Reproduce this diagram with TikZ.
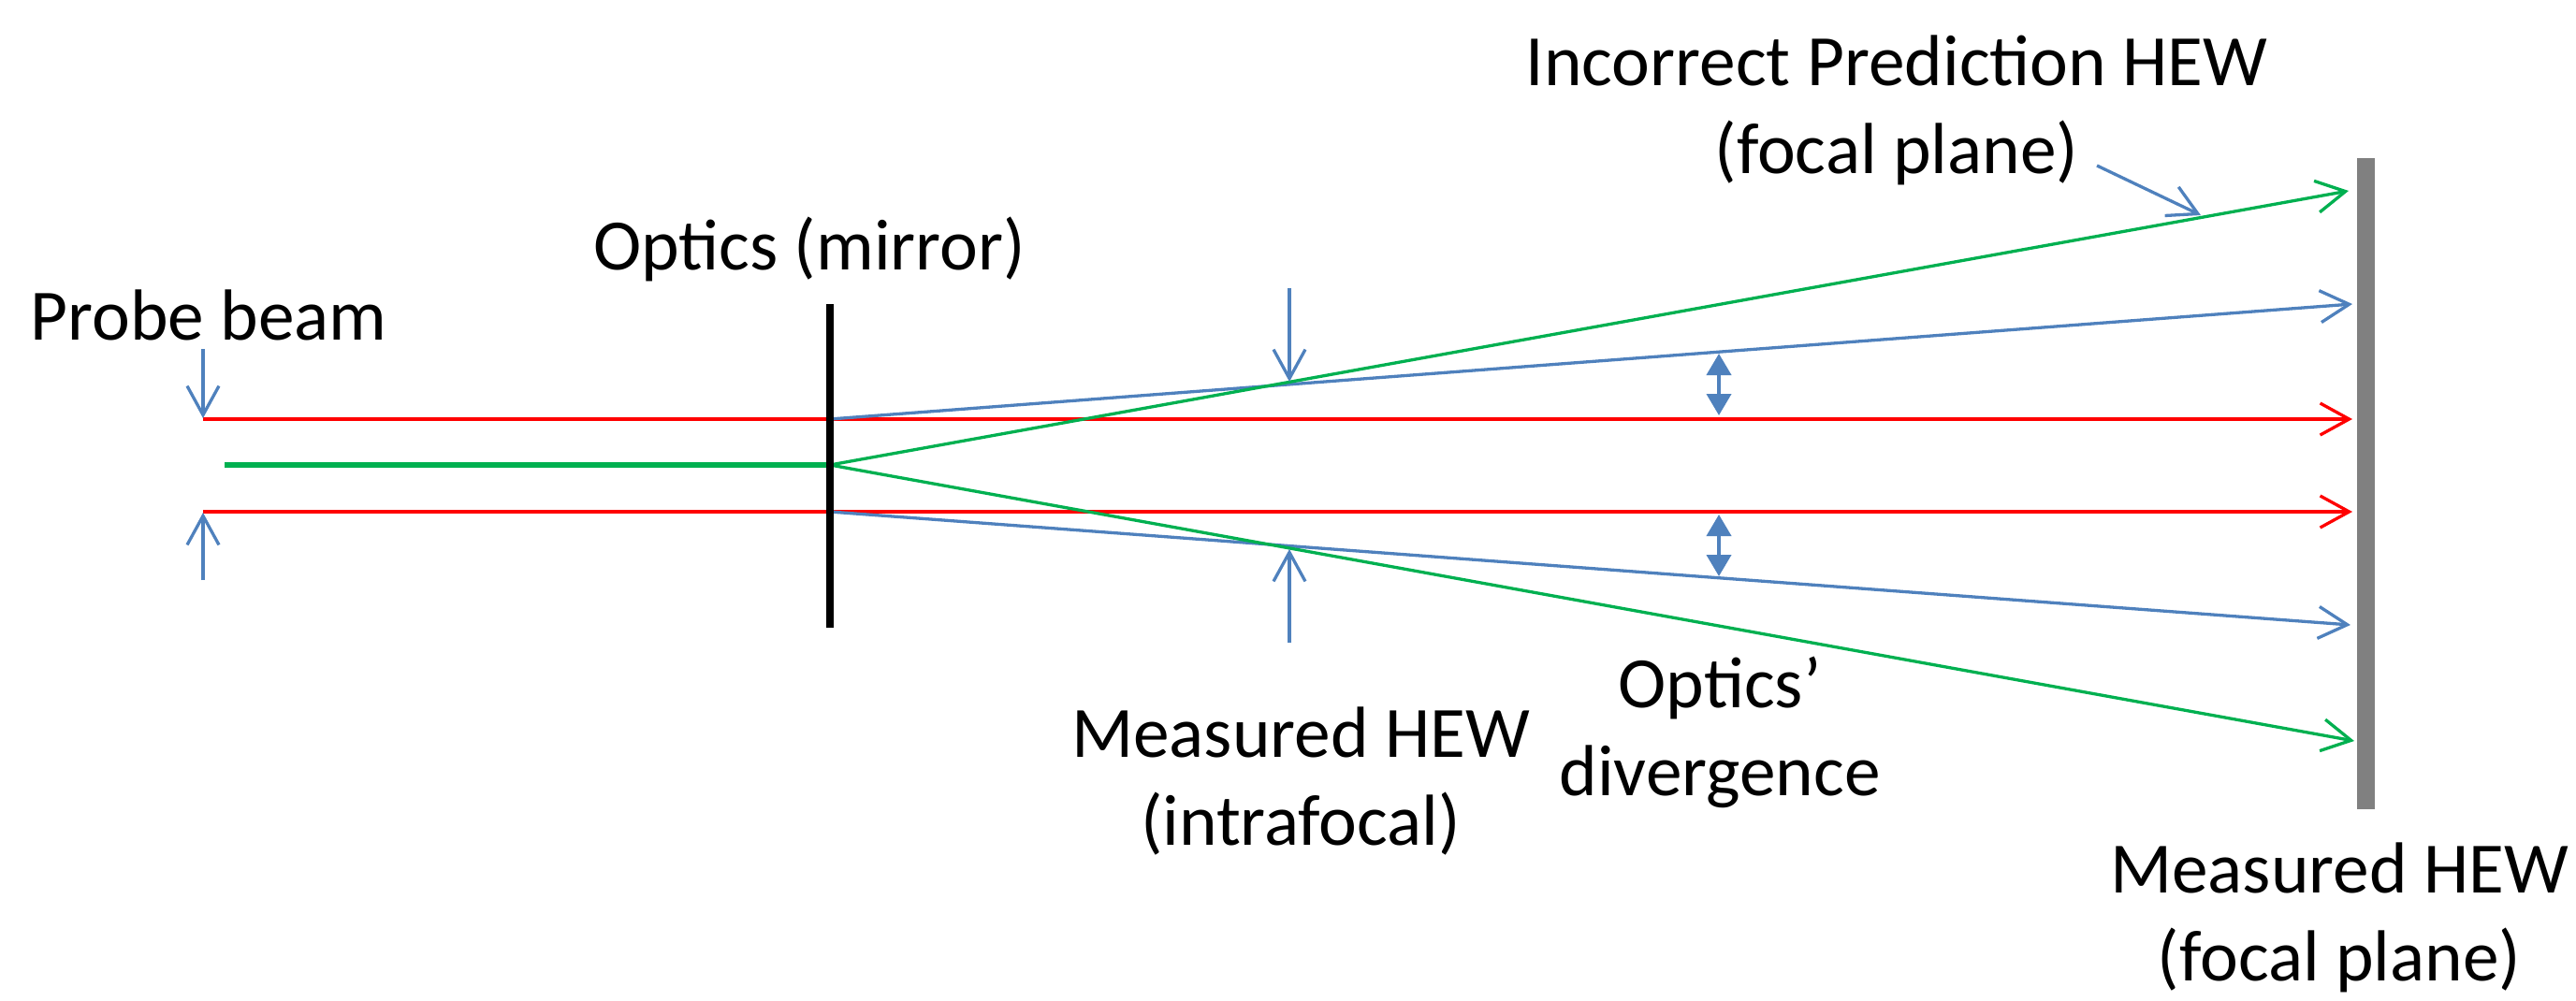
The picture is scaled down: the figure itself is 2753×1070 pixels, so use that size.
\documentclass[tikz,border=0pt]{standalone}
\usepackage{fontspec}
\setmainfont{Carlito}
\usetikzlibrary{arrows.meta}
\definecolor{obl}{RGB}{79,129,189}
\definecolor{ogr}{RGB}{0,176,80}
\definecolor{ord}{RGB}{255,0,0}
\definecolor{ogy}{RGB}{128,128,128}
\begin{document}
\begin{tikzpicture}[x=0.1mm,y=-0.1mm,
  lbl/.style={font=\fontsize{22}{26.5}\selectfont, inner sep=0pt, align=center, anchor=base},
  ray/.style={line width=0.33mm},
  openhead/.style={-{Straight Barb[length=3.1mm,width=3.4mm,line width=0.33mm]}},
  dblhead/.style={{Triangle[length=2.3mm,width=2.6mm]}-{Triangle[length=2.3mm,width=2.6mm]}, line width=0.4mm, obl}
]
\useasboundingbox (0,0) rectangle (2753,1070);

% coordinates
\coordinate (rTs) at (217,448);  \coordinate (rTe) at (2514,448);
\coordinate (rBs) at (217,547);  \coordinate (rBe) at (2514,547);
\coordinate (gS)  at (240,497);  \coordinate (gM)  at (887,497);
\coordinate (mT)  at (887,448);  \coordinate (mB)  at (887,547);
\coordinate (bTe) at (2514,325); \coordinate (bBe) at (2512,668);
\coordinate (gTe) at (2510,204); \coordinate (gBe) at (2516,792);
\coordinate (mirTop) at (887,325); \coordinate (mirBot) at (887,671);
\coordinate (fpTop) at (2528,169); \coordinate (fpBot) at (2528,865);
\coordinate (pa1) at (217,373);  \coordinate (pa1e) at (217,447);
\coordinate (pa2) at (217,620);  \coordinate (pa2e) at (217,548);
\coordinate (ia1) at (1378,308); \coordinate (ia1e) at (1378,408);
\coordinate (ia2) at (1378,687); \coordinate (ia2e) at (1378,587);
\coordinate (da1) at (1837,378); \coordinate (da1e) at (1837,444);
\coordinate (da2) at (1837,550); \coordinate (da2e) at (1837,616);
\coordinate (ptS) at (2241,177); \coordinate (ptE) at (2352,230);

% labels (base anchor = baseline of last line)
\node[lbl, anchor=base west] (probe) at (32,363) {Probe beam};
\node[lbl] (optics) at (865,288) {Optics (mirror)};
\node[lbl] (incorrect) at (2027,185) {Incorrect Prediction HEW\\(focal plane)};
\node[lbl] (intra) at (1390,903) {Measured HEW\\(intrafocal)};
\node[lbl] (diverg) at (1838,850) {Optics’\\divergence};
\node[lbl] (focal) at (2500,1048) {Measured HEW\\(focal plane)};

% red beams
\draw[ray, ord, openhead] (rTs) -- (rTe);
\draw[ray, ord, openhead] (rBs) -- (rBe);
% blue rays
\draw[ray, obl, openhead] (mT) -- (bTe);
\draw[ray, obl, openhead] (mB) -- (bBe);
% green
\draw[line width=0.55mm, ogr] (gS) -- (gM);
\draw[ray, ogr, openhead] (gM) -- (gTe);
\draw[ray, ogr, openhead] (gM) -- (gBe);
% mirror and focal plane
\draw[line width=0.8mm, black] (mirTop) -- (mirBot);
\draw[line width=1.9mm, ogy] (fpTop) -- (fpBot);
% probe arrows
\draw[ray, obl, openhead] (pa1) -- (pa1e);
\draw[ray, obl, openhead] (pa2) -- (pa2e);
% intrafocal arrows
\draw[ray, obl, openhead] (ia1) -- (ia1e);
\draw[ray, obl, openhead] (ia2) -- (ia2e);
% divergence double arrows
\draw[dblhead] (da1) -- (da1e);
\draw[dblhead] (da2) -- (da2e);
% pointer
\draw[ray, obl, openhead] (ptS) -- (ptE);
\end{tikzpicture}
\end{document}
